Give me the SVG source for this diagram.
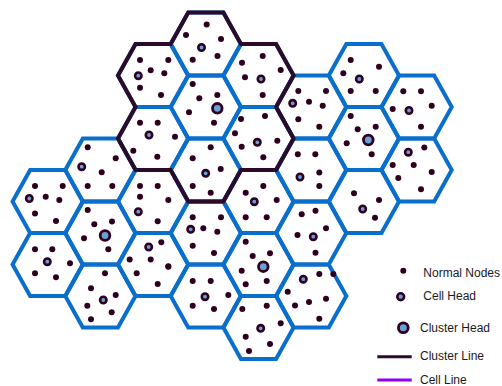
<svg xmlns="http://www.w3.org/2000/svg" xmlns:xlink="http://www.w3.org/1999/xlink" width="502" height="386" viewBox="0 0 502 386">
<style>
.cell{fill:none;stroke:#0a6fcc;stroke-width:4;stroke-linejoin:miter}
.n{fill:#2e001f}
.ch{fill:#6aa0d6;stroke:#2e001f;stroke-width:2.6}
.kh{fill:#6aa0d6;stroke:#2e001f;stroke-width:2.8}
.cl{fill:none;stroke:#2c0a2a;stroke-width:4;stroke-linejoin:miter}
.lbl{font-family:"Liberation Sans",Arial,sans-serif;font-size:12px;fill:#1a1a1a}
</style>
<defs>
<polygon id="hex" points="-35.13,0 -17.57,-31.5 17.57,-31.5 35.13,0 17.57,31.5 -17.57,31.5"/>
</defs>
<rect width="502" height="386" fill="#fff"/>
<g id="cells">
<g id="c0a"><use xlink:href="#hex" href="#hex" class="cell" x="47.7" y="201.5"/>
<circle class="n" cx="35" cy="186" r="3"/><circle class="n" cx="62.7" cy="186" r="3"/><circle class="ch" cx="29.3" cy="198.5" r="3.2"/><circle class="n" cx="45.7" cy="196.7" r="3"/><circle class="n" cx="59.3" cy="200" r="3"/><circle class="n" cx="35" cy="213.5" r="3"/><circle class="n" cx="56" cy="221" r="3"/></g>
<g id="c0b"><use xlink:href="#hex" href="#hex" class="cell" x="47.7" y="264.5"/>
<circle class="n" cx="35" cy="249.3" r="3"/><circle class="n" cx="52.3" cy="249.3" r="3"/><circle class="ch" cx="47.3" cy="261.7" r="3.2"/><circle class="n" cx="70" cy="263.3" r="3"/><circle class="n" cx="35" cy="273.3" r="3"/><circle class="n" cx="56" cy="277.3" r="3"/></g>
<g id="c1a"><use xlink:href="#hex" href="#hex" class="cell" x="100.4" y="170"/>
<circle class="n" cx="87.7" cy="147.3" r="3"/><circle class="n" cx="115.7" cy="158.3" r="3"/><circle class="ch" cx="81.7" cy="166.7" r="3.2"/><circle class="n" cx="101.7" cy="172.3" r="3"/><circle class="n" cx="87.7" cy="186" r="3"/><circle class="n" cx="112.3" cy="186" r="3"/></g>
<g id="c1b"><use xlink:href="#hex" href="#hex" class="cell" x="100.4" y="233"/>
<circle class="n" cx="87.7" cy="210" r="3"/><circle class="n" cx="112" cy="221.5" r="3"/><circle class="n" cx="94.3" cy="224.3" r="3"/><circle class="kh" cx="105" cy="235.5" r="4.8"/><circle class="n" cx="84" cy="238.3" r="3"/><circle class="n" cx="108.3" cy="249.3" r="3"/></g>
<g id="c1c"><use xlink:href="#hex" href="#hex" class="cell" x="100.4" y="296"/>
<circle class="n" cx="105" cy="273.3" r="3"/><circle class="n" cx="91" cy="288.3" r="3"/><circle class="n" cx="115.7" cy="295" r="3"/><circle class="ch" cx="103.3" cy="300" r="3.2"/><circle class="n" cx="87.3" cy="305.7" r="3"/><circle class="n" cx="111.7" cy="312.3" r="3"/><circle class="n" cx="91" cy="319.3" r="3"/></g>
<g id="c2a"><use xlink:href="#hex" href="#hex" class="cell" x="153.1" y="75.5"/>
<circle class="n" cx="140" cy="60" r="3"/><circle class="n" cx="168.3" cy="60" r="3"/><circle class="n" cx="150.7" cy="70.3" r="3"/><circle class="n" cx="164.3" cy="73.3" r="3"/><circle class="ch" cx="138.3" cy="75.7" r="3.2"/><circle class="n" cx="140" cy="87.7" r="3"/><circle class="n" cx="161" cy="95" r="3"/></g>
<g id="c2b"><use xlink:href="#hex" href="#hex" class="cell" x="153.1" y="138.5"/>
<circle class="n" cx="140" cy="122.7" r="3"/><circle class="n" cx="157.7" cy="122.7" r="3"/><circle class="ch" cx="149" cy="135" r="3.2"/><circle class="n" cx="175" cy="136.7" r="3"/><circle class="n" cx="133.3" cy="150.7" r="3"/><circle class="n" cx="157.3" cy="156.7" r="3"/></g>
<g id="c2c"><use xlink:href="#hex" href="#hex" class="cell" x="153.1" y="201.5"/>
<circle class="n" cx="140" cy="186" r="3"/><circle class="n" cx="157.7" cy="186" r="3"/><circle class="n" cx="140" cy="196.7" r="3"/><circle class="n" cx="168.3" cy="200" r="3"/><circle class="ch" cx="138.3" cy="211.7" r="3.2"/><circle class="n" cx="157.7" cy="221.3" r="3"/></g>
<g id="c2d"><use xlink:href="#hex" href="#hex" class="cell" x="153.1" y="264.5"/>
<circle class="ch" cx="148.7" cy="247" r="3.2"/><circle class="n" cx="161.3" cy="242.3" r="3"/><circle class="n" cx="129.7" cy="259.5" r="3"/><circle class="n" cx="150.7" cy="259.5" r="3"/><circle class="n" cx="168.3" cy="266.3" r="3"/><circle class="n" cx="136.7" cy="273.3" r="3"/><circle class="n" cx="157.7" cy="284" r="3"/></g>
<g id="c3a"><use xlink:href="#hex" href="#hex" class="cell" x="205.8" y="44"/>
<circle class="n" cx="206.7" cy="24.5" r="3"/><circle class="n" cx="186" cy="35" r="3"/><circle class="n" cx="221" cy="39" r="3"/><circle class="ch" cx="201.5" cy="47.5" r="3.2"/><circle class="n" cx="217.5" cy="56" r="3"/><circle class="n" cx="192.7" cy="59.7" r="3"/></g>
<g id="c3b"><use xlink:href="#hex" href="#hex" class="cell" x="205.8" y="107"/>
<circle class="n" cx="192.7" cy="84" r="3"/><circle class="n" cx="217.3" cy="95" r="3"/><circle class="n" cx="199.3" cy="98.3" r="3"/><circle class="kh" cx="217.3" cy="108.3" r="4.8"/><circle class="n" cx="189" cy="112.3" r="3"/><circle class="n" cx="214" cy="122.7" r="3"/></g>
<g id="c3c"><use xlink:href="#hex" href="#hex" class="cell" x="205.8" y="170"/>
<circle class="n" cx="210.7" cy="147.3" r="3"/><circle class="n" cx="192.7" cy="158.3" r="3"/><circle class="n" cx="220.7" cy="169" r="3"/><circle class="ch" cx="205.7" cy="173.3" r="3.2"/><circle class="n" cx="192.7" cy="186" r="3"/><circle class="n" cx="210.7" cy="192.7" r="3"/></g>
<g id="c3d"><use xlink:href="#hex" href="#hex" class="cell" x="205.8" y="233"/>
<circle class="n" cx="192.7" cy="217.3" r="3"/><circle class="n" cx="221" cy="217.3" r="3"/><circle class="ch" cx="190.7" cy="229.3" r="3.2"/><circle class="n" cx="203.3" cy="228.3" r="3"/><circle class="n" cx="217.3" cy="231.7" r="3"/><circle class="n" cx="192.7" cy="245.7" r="3"/><circle class="n" cx="214" cy="253" r="3"/></g>
<g id="c3e"><use xlink:href="#hex" href="#hex" class="cell" x="205.8" y="296"/>
<circle class="n" cx="168.3" cy="266.7" r="3"/><circle class="n" cx="192.7" cy="281" r="3"/><circle class="n" cx="210.7" cy="281" r="3"/><circle class="ch" cx="205" cy="296.7" r="3.2"/><circle class="n" cx="228.3" cy="295" r="3"/><circle class="n" cx="192.7" cy="305.7" r="3"/><circle class="n" cx="214" cy="309" r="3"/></g>
<g id="c4a"><use xlink:href="#hex" href="#hex" class="cell" x="258.5" y="75.5"/>
<circle class="n" cx="262.7" cy="56" r="3"/><circle class="n" cx="242" cy="62.7" r="3"/><circle class="n" cx="280.7" cy="70" r="3"/><circle class="n" cx="245" cy="77.3" r="3"/><circle class="ch" cx="261" cy="79" r="3.2"/><circle class="n" cx="262.7" cy="95" r="3"/></g>
<g id="c4b"><use xlink:href="#hex" href="#hex" class="cell" x="258.5" y="138.5"/>
<circle class="n" cx="241" cy="119" r="3"/><circle class="n" cx="265" cy="116" r="3"/><circle class="n" cx="235" cy="133.3" r="3"/><circle class="ch" cx="257.3" cy="142.3" r="3.2"/><circle class="n" cx="277.3" cy="140.7" r="3"/><circle class="n" cx="241.7" cy="146.7" r="3"/><circle class="n" cx="263.3" cy="157.3" r="3"/></g>
<g id="c4c"><use xlink:href="#hex" href="#hex" class="cell" x="258.5" y="201.5"/>
<circle class="n" cx="263.3" cy="186" r="3"/><circle class="n" cx="245.7" cy="192.7" r="3"/><circle class="ch" cx="254.3" cy="201.7" r="3.2"/><circle class="n" cx="276.7" cy="200" r="3"/><circle class="n" cx="245.7" cy="217.3" r="3"/><circle class="n" cx="266.7" cy="217.3" r="3"/></g>
<g id="c4d"><use xlink:href="#hex" href="#hex" class="cell" x="258.5" y="264.5"/>
<circle class="n" cx="245.7" cy="241.7" r="3"/><circle class="n" cx="252.7" cy="256" r="3"/><circle class="n" cx="270" cy="253.3" r="3"/><circle class="kh" cx="263.3" cy="266.7" r="4.8"/><circle class="n" cx="241.7" cy="270.7" r="3"/><circle class="n" cx="266.7" cy="281" r="3"/><circle class="n" cx="245.7" cy="284.3" r="3"/></g>
<g id="c4e"><use xlink:href="#hex" href="#hex" class="cell" x="258.5" y="327.5"/>
<circle class="n" cx="242.3" cy="309" r="3"/><circle class="n" cx="266.7" cy="305.7" r="3"/><circle class="ch" cx="260.7" cy="328.3" r="3.2"/><circle class="n" cx="280.7" cy="323.3" r="3"/><circle class="n" cx="245.7" cy="336.7" r="3"/><circle class="n" cx="270" cy="344" r="3"/><circle class="n" cx="249" cy="351" r="3"/></g>
<g id="c5a"><use xlink:href="#hex" href="#hex" class="cell" x="311.2" y="107"/>
<circle class="n" cx="298.3" cy="91" r="3"/><circle class="n" cx="326" cy="91" r="3"/><circle class="ch" cx="292.7" cy="103.3" r="3.2"/><circle class="n" cx="309" cy="101.7" r="3"/><circle class="n" cx="322.7" cy="105.7" r="3"/><circle class="n" cx="298.3" cy="119.3" r="3"/><circle class="n" cx="319.3" cy="126.7" r="3"/></g>
<g id="c5b"><use xlink:href="#hex" href="#hex" class="cell" x="311.2" y="170"/>
<circle class="n" cx="297.8" cy="154.3" r="3"/><circle class="n" cx="315.3" cy="154.3" r="3"/><circle class="n" cx="319.3" cy="172.5" r="3"/><circle class="ch" cx="300" cy="177" r="3.2"/><circle class="n" cx="319.3" cy="186" r="3"/></g>
<g id="c5c"><use xlink:href="#hex" href="#hex" class="cell" x="311.2" y="233"/>
<circle class="n" cx="301.7" cy="214.3" r="3"/><circle class="n" cx="315.5" cy="210.8" r="3"/><circle class="n" cx="326" cy="228.3" r="3"/><circle class="ch" cx="313.3" cy="236.7" r="3.2"/><circle class="n" cx="297.5" cy="235" r="3"/><circle class="n" cx="315.5" cy="252.7" r="3"/></g>
<g id="c5d"><use xlink:href="#hex" href="#hex" class="cell" x="311.2" y="296"/>
<circle class="ch" cx="303.3" cy="279.2" r="3.2"/><circle class="n" cx="319.3" cy="274" r="3"/><circle class="n" cx="333.3" cy="274" r="3"/><circle class="n" cx="287.7" cy="291.7" r="3"/><circle class="n" cx="309" cy="302" r="3"/><circle class="n" cx="326" cy="298.7" r="3"/><circle class="n" cx="295" cy="305.5" r="3"/><circle class="n" cx="319.3" cy="318.8" r="3"/></g>
<g id="c6a"><use xlink:href="#hex" href="#hex" class="cell" x="363.9" y="75.5"/>
<circle class="n" cx="350.7" cy="60" r="3"/><circle class="n" cx="379" cy="66.7" r="3"/><circle class="n" cx="343.3" cy="73.3" r="3"/><circle class="ch" cx="359.3" cy="79" r="3.2"/><circle class="n" cx="350.7" cy="91" r="3"/><circle class="n" cx="375.7" cy="91" r="3"/></g>
<g id="c6b"><use xlink:href="#hex" href="#hex" class="cell" x="363.9" y="138.5"/>
<circle class="n" cx="350.7" cy="116" r="3"/><circle class="n" cx="357.7" cy="129.3" r="3"/><circle class="n" cx="375.7" cy="126.7" r="3"/><circle class="kh" cx="368.3" cy="140" r="4.8"/><circle class="n" cx="346.7" cy="143.3" r="3"/><circle class="n" cx="371.7" cy="154.3" r="3"/></g>
<g id="c6c"><use xlink:href="#hex" href="#hex" class="cell" x="363.9" y="201.5"/>
<circle class="n" cx="354" cy="193.3" r="3"/><circle class="n" cx="379" cy="200" r="3"/><circle class="ch" cx="362.7" cy="209" r="3.2"/><circle class="n" cx="375" cy="217.7" r="3"/></g>
<g id="c7a"><use xlink:href="#hex" href="#hex" class="cell" x="416.6" y="107"/>
<circle class="n" cx="403.3" cy="91.3" r="3"/><circle class="n" cx="421" cy="91.3" r="3"/><circle class="n" cx="392.7" cy="109" r="3"/><circle class="ch" cx="409" cy="110.5" r="3.2"/><circle class="n" cx="431.7" cy="105.7" r="3"/><circle class="n" cx="421" cy="126.7" r="3"/></g>
<g id="c7b"><use xlink:href="#hex" href="#hex" class="cell" x="416.6" y="170"/>
<circle class="ch" cx="408.3" cy="152.2" r="3.2"/><circle class="n" cx="424.3" cy="147.5" r="3"/><circle class="n" cx="392.7" cy="165" r="3"/><circle class="n" cx="413.7" cy="165" r="3"/><circle class="n" cx="431.7" cy="172" r="3"/><circle class="n" cx="398.3" cy="178" r="3"/><circle class="n" cx="421" cy="189.3" r="3"/></g>
</g>
<g id="connectors">
<path class="cl" d="M170.67,44 L188.23,12.5 L223.37,12.5 L240.93,44 L276.07,44 L293.63,75.5 L276.07,107 L293.63,138.5 L276.07,170 L240.93,170 L223.37,201.5 L188.23,201.5 L170.67,170 L135.53,170 L117.97,138.5 L135.53,107 L117.97,75.5 L135.53,44 Z"/>
</g>
<g id="legend">
<circle class="n" cx="403.3" cy="270.7" r="3"/>
<text class="lbl" x="423.3" y="276.6">Normal Nodes</text>
<circle class="ch" cx="400.7" cy="296.7" r="3.4"/>
<text class="lbl" x="423.3" y="300">Cell Head</text>
<circle class="kh" cx="403.3" cy="327.7" r="4.9"/>
<text class="lbl" x="420" y="332">Cluster Head</text>
<line x1="377.3" y1="356.7" x2="411.7" y2="356.7" stroke="#2c0a2a" stroke-width="3"/>
<text class="lbl" x="420" y="360.3">Cluster Line</text>
<line x1="377.3" y1="380" x2="411.7" y2="380" stroke="#8b00ff" stroke-width="3"/>
<text class="lbl" x="420" y="384.3">Cell Line</text>
</g>
</svg>
